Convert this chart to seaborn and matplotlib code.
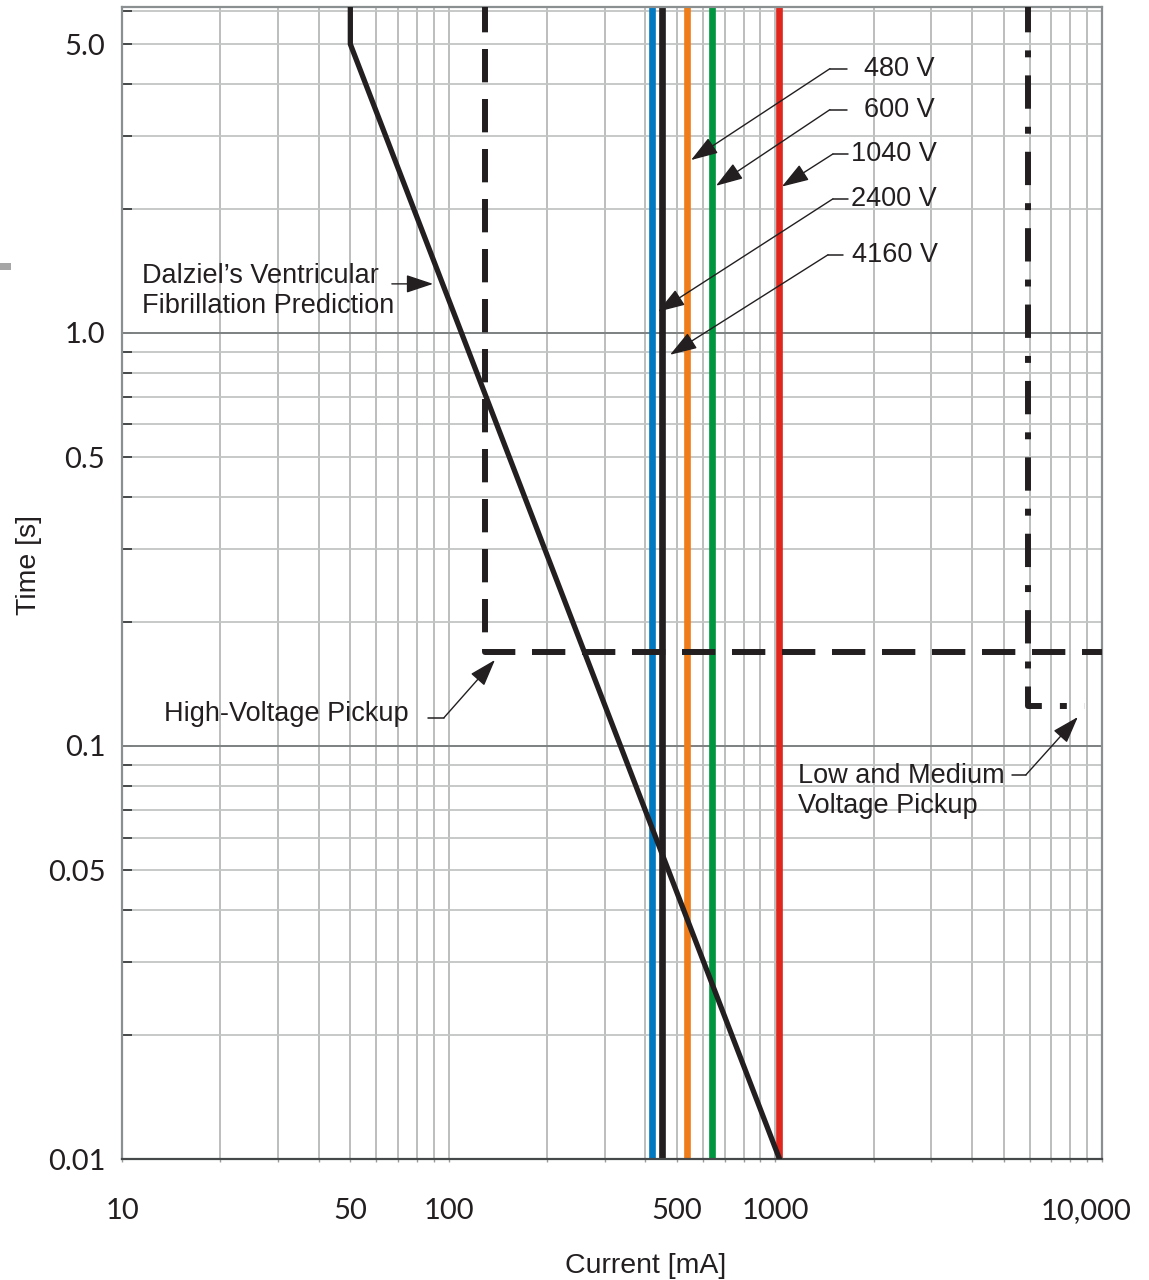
# Time-current chart: Dalziel fibrillation curve vs. arc-flash / pickup currents.

import matplotlib
matplotlib.use("Agg")
import matplotlib.pyplot as plt
import matplotlib.transforms as mtransforms
from matplotlib.patches import Rectangle
from matplotlib.ticker import LogLocator, NullFormatter
import numpy as np
import pandas as pd
import seaborn as sns

# Voltage levels and the current (mA) of each vertical line.
voltage_labels = ["480 V", "600 V", "1040 V", "2400 V", "4160 V"]
line_currents = [536, 639, 1026, 450, 419]
line_colors = ["#ee7d1a", "#00963f", "#e0261d", "#231f20", "#0079c1"]

# Dalziel's ventricular fibrillation prediction (current mA, time s).
dalziel_current = [50, 50, 1030]
dalziel_time = [7.0, 5.0, 0.01]

# High-voltage pickup (dashed).
hv_current = [129, 129, 10000]
hv_time = [7.0, 0.169, 0.169]

# Low and medium voltage pickup (dash-dot).
lmv_current = [5930, 5930, 8870]
lmv_time = [7.0, 0.125, 0.125]

# Axis ticks.
x_ticks = [10, 50, 100, 500, 1000, 10000]
x_tick_labels = ["10", "50", "100", "500", "1000", "10,000"]
y_ticks = [0.01, 0.05, 0.1, 0.5, 1.0, 5.0]
y_tick_labels = ["0.01", "0.05", "0.1", "0.5", "1.0", "5.0"]

ink = "#231f20"

sns.set_style("white")
plt.rcParams["font.family"] = ["Liberation Sans", "DejaVu Sans"]

fig = plt.figure(figsize=(11.49, 12.80), dpi=100)
ax = fig.add_axes([122 / 1149, 1 - 1159 / 1280, 980 / 1149, 1152 / 1280])
ax.set_xscale("log")
ax.set_yscale("log")
ax.set_xlim(10, 10000)
ax.set_ylim(0.01, 6.15)

# Grid lines.
ax.xaxis.set_minor_locator(LogLocator(base=10, subs=np.arange(2, 10)))
ax.yaxis.set_minor_locator(LogLocator(base=10, subs=np.arange(2, 10)))
ax.xaxis.set_minor_formatter(NullFormatter())
ax.yaxis.set_minor_formatter(NullFormatter())
ax.xaxis.grid(True, which="both", color="#a9abab", lw=1.1)
ax.yaxis.grid(True, which="both", color="#c3c5c5", lw=1.3)
for decade in [0.1, 1.0]:
    ax.axhline(decade, color="#7f8283", lw=1.4, zorder=1)
ax.set_axisbelow(True)

# Voltage lines.
for cur, col in zip(line_currents, line_colors):
    ax.axvline(cur, color=col, lw=4.8, zorder=2)

# Pickup curves.
lw_pick = 4.3
sns.lineplot(x=hv_current, y=hv_time, sort=False, estimator=None, ax=ax,
             color=ink, lw=lw_pick, linestyle=(0, (24 / lw_pick, 12 / lw_pick)),
             zorder=3)
sns.lineplot(x=lmv_current, y=lmv_time, sort=False, estimator=None, ax=ax,
             color=ink, lw=lw_pick,
             linestyle=(0, (24 / lw_pick, 13 / lw_pick, 5 / lw_pick, 13 / lw_pick)),
             zorder=3)

# Dalziel curve.
sns.lineplot(x=dalziel_current, y=dalziel_time, sort=False, estimator=None, ax=ax,
             color=ink, lw=3.8, zorder=4)

# Ticks and labels.
ax.set_xticks(x_ticks)
ax.set_xticklabels(x_tick_labels)
ax.set_yticks(y_ticks)
ax.set_yticklabels(y_tick_labels)
for lab in ax.get_xticklabels() + ax.get_yticklabels():
    lab.set_fontfamily(["Lato", "DejaVu Sans"])
    lab.set_fontweight("normal")
    lab.set_fontsize(21)
    lab.set_color(ink)
ax.tick_params(axis="y", which="both", direction="in", length=7, width=1.3,
               color="#3c3f40", pad=12, left=True)
ax.tick_params(axis="x", which="both", direction="out", length=2, width=1,
               color="#9a9c9c", pad=26, bottom=True)
# the last x label sits a little to the left in the original
last = ax.get_xticklabels()[-1]
last.set_transform(last.get_transform() +
                   mtransforms.ScaledTranslation(-0.16, 0, fig.dpi_scale_trans))

ax.set_xlabel("Current [mA]", fontsize=20.5, color=ink)
ax.set_ylabel("Time [s]", fontsize=20.5, color=ink)
ax.xaxis.set_label_coords(0.534, -0.082)
ax.yaxis.set_label_coords(-0.082, 0.516)

for side in ["top", "right", "left"]:
    ax.spines[side].set_color("#8a9092")
    ax.spines[side].set_linewidth(1.6)
ax.spines["bottom"].set_color("#45494a")
ax.spines["bottom"].set_linewidth(1.6)

# Annotations.
head = dict(arrowstyle="-|>,head_length=0.6,head_width=0.2", color=ink, lw=1.0,
            mutation_scale=28, shrinkA=0, shrinkB=0)
txt = dict(fontsize=19.5, color=ink, va="center")

# label position, leader segment, arrow tip
volt_notes = [
    ((1866, 4.36), (1469, 1656), (552, 2.62)),
    ((1866, 3.47), (1469, 1656), (658, 2.27)),
    ((1703, 2.71), (1500, 1668), (1047, 2.26)),
    ((1703, 2.11), (1500, 1668), (437, 1.125)),
    ((1711, 1.545), (1449, 1611), (476, 0.885)),
]
for lab, (pos, seg, tip) in zip(voltage_labels, volt_notes):
    ax.text(pos[0], pos[1], lab, ha="left", **txt)
    ax.plot(seg, [pos[1], pos[1]], color=ink, lw=1.1)
    ax.annotate("", xy=tip, xytext=(seg[0], pos[1]), arrowprops=head)

ax.text(11.5, 1.264, "Dalziel\u2019s Ventricular\nFibrillation Prediction",
        ha="left", linespacing=1.17, **txt)
ax.annotate("", xy=(89.6, 1.314), xytext=(67, 1.314), arrowprops=head)

ax.text(13.45, 0.1195, "High-Voltage Pickup", ha="left", **txt)
ax.plot([86.4, 96.7], [0.117, 0.117], color=ink, lw=1.1)
ax.annotate("", xy=(138.6, 0.1615), xytext=(96.7, 0.117), arrowprops=head)

ax.text(1172, 0.0778, "Low and Medium\nVoltage Pickup", ha="left",
        linespacing=1.17, **txt)
ax.plot([5297, 5848], [0.0851, 0.0851], color=ink, lw=1.1)
ax.annotate("", xy=(8435, 0.1175), xytext=(5848, 0.0851), arrowprops=head)

# Small grey mark at the left edge of the page.
fig.add_artist(Rectangle((0, 1 - 270 / 1280), 11 / 1149, 7 / 1280,
                         transform=fig.transFigure, color="#a6a6a6", lw=0))

fig.savefig("out.png", dpi=100)
